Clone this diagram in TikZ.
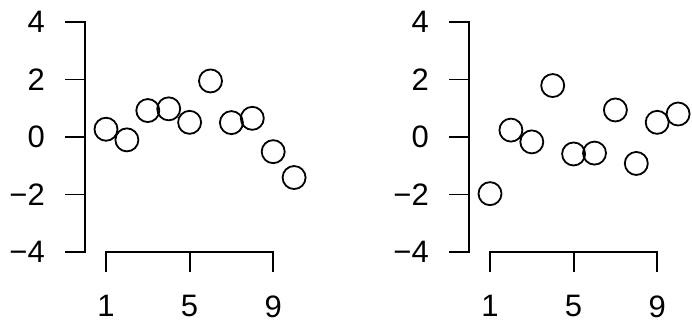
\documentclass[tikz,border=0pt]{standalone}
\usepackage{fontspec}
\setmainfont{Liberation Sans}
\usetikzlibrary{positioning}
\begin{document}
\begin{tikzpicture}[x=1pt,y=1pt]
\tikzset{axis/.style={line width=1.8pt,line cap=rect}}
\tikzset{point/.style={draw,circle,minimum size=23pt,inner sep=0pt,line width=1.8pt}}
\tikzset{ticklabel/.style={font=\fontsize{31}{33}\selectfont,inner sep=0pt}}
\tikzset{panel/.style={x=20.9pt,y=28.75pt}}
	\useasboundingbox (0,0) rectangle (692,-324);
	% left panel
	\begin{scope}[panel,shift={(85.1pt,-137pt)}]
	\draw[axis] (0,-4) -- (0,4);
	\foreach \v/\t in {4/4,2/2,0/0,-2/−2,-4/−4}
		\draw[axis] (0,\v) -- (-0.93,\v) node[ticklabel,left=20pt] (ly\v) {\t};
	\draw[axis] (1,-4) -- (9,-4);
	\foreach \u in {1,5,9}
		\draw[axis] (\u,-4) -- (\u,-4.68) node[ticklabel,below=23pt] (lx\u) {\u};
	\foreach \u/\v in {1/0.27,2/-0.10,3/0.92,4/0.98,5/0.51,6/1.95,7/0.50,8/0.65,9/-0.51,10/-1.41}
		\node[point] (a\u) at (\u,\v) {};
	\end{scope}
	% right panel
	\begin{scope}[panel,shift={(469.1pt,-137pt)}]
	\draw[axis] (0,-4) -- (0,4);
	\foreach \v/\t in {4/4,2/2,0/0,-2/−2,-4/−4}
		\draw[axis] (0,\v) -- (-0.93,\v) node[ticklabel,left=20pt] (ry\v) {\t};
	\draw[axis] (1,-4) -- (9,-4);
	\foreach \u in {1,5,9}
		\draw[axis] (\u,-4) -- (\u,-4.68) node[ticklabel,below=23pt] (rx\u) {\u};
	\foreach \u/\v in {1/-1.97,2/0.24,3/-0.17,4/1.79,5/-0.59,6/-0.56,7/0.94,8/-0.92,9/0.51,10/0.80}
		\node[point] (b\u) at (\u,\v) {};
	\end{scope}
\end{tikzpicture}
\end{document}
